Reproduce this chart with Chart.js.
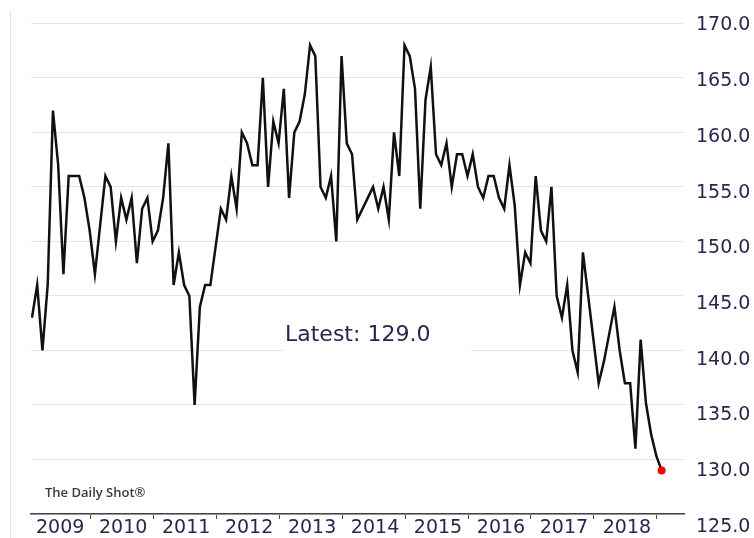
<!DOCTYPE html>
<html>
<head>
<meta charset="utf-8">
<script src="https://cdn.jsdelivr.net/npm/chart.js@4/dist/chart.umd.min.js"></script>
<style>
  html, body { margin: 0; padding: 0; background: #fff; overflow: hidden; }
</style>
</head>
<body>
<canvas id="chart" width="754" height="538"></canvas>
<script>
// monthly values, Jan 2009 .. Jan 2019
const v2009 = [143, 146, 140, 146, 162, 157, 147, 156, 156, 156, 154, 151];
const v2010 = [147, 151.5, 156, 155, 150, 154, 152, 154, 148, 153, 154, 150];
const v2011 = [151, 154, 159, 146, 149, 146, 145, 135, 144, 146, 146, 149.5];
const v2012 = [153, 152, 156, 153, 160, 159, 157, 157, 165, 155, 161, 159];
const v2013 = [164, 154, 160, 161, 163.5, 168, 167, 155, 154, 156, 150, 167];
const v2014 = [159, 158, 152, 153, 154, 155, 153, 155, 152, 160, 156, 168];
const v2015 = [167, 164, 153, 163, 166, 158, 157, 159, 155, 158, 158, 156];
const v2016 = [158, 155, 154, 156, 156, 154, 153, 157, 153.3, 146, 149, 148];
const v2017 = [156, 151, 150, 155, 145, 143, 146, 140, 138, 149, 145, 141];
const v2018 = [137, 139, 141.5, 144, 140, 137, 137, 131, 141, 135.2, 132.3, 130.3];
const v2019 = [129];

const years = ['2009', '2010', '2011', '2012', '2013', '2014', '2015', '2016', '2017', '2018'];
const yTicks = [125, 130, 135, 140, 145, 150, 155, 160, 165, 170];
const latestText = 'Latest: 129.0';

const values = [].concat(v2009, v2010, v2011, v2012, v2013, v2014, v2015, v2016, v2017, v2018, v2019);
const points = values.map((v, i) => ({ x: 2009 + (i + 0.9) / 12, y: v }));
const last = points.length - 1;

const ink = '#30234d';

const decor = {
  id: 'decor',
  beforeDraw(chart) {
    const c = chart.ctx;
    c.save();
    c.fillStyle = '#ffffff';
    c.fillRect(0, 0, chart.width, chart.height);
    c.strokeStyle = '#e4e4e4';
    c.lineWidth = 1;
    c.beginPath();
    c.moveTo(10.5, 10);
    c.lineTo(10.5, chart.height);
    c.stroke();
    c.restore();
  },
  beforeDatasetsDraw(chart) {
    const c = chart.ctx;
    const a = chart.chartArea;
    c.save();
    c.fillStyle = '#ffffff';
    c.fillRect(a.left + 252, 306, 188, 50);
    c.fillStyle = ink;
    c.font = '22px "DejaVu Sans"';
    c.textBaseline = 'alphabetic';
    c.fillText(latestText, a.left + 254, 341);
    c.restore();
  },
  afterDraw(chart) {
    const c = chart.ctx;
    c.save();
    c.fillStyle = '#3a3a3a';
    c.font = '600 13px "Open Sans"';
    c.textBaseline = 'alphabetic';
    c.fillText('The Daily Shot®', 45, 497);
    c.restore();
  }
};

new Chart(document.getElementById('chart'), {
  type: 'line',
  data: {
    datasets: [{
      data: points,
      borderColor: '#111111',
      borderWidth: 2.5,
      tension: 0,
      pointRadius: ctx => ctx.dataIndex === last ? 4 : 0,
      pointBackgroundColor: '#ff0000',
      pointBorderWidth: 0,
      xAxisID: 'x',
      yAxisID: 'y'
    }]
  },
  options: {
    responsive: false,
    animation: false,
    devicePixelRatio: 1,
    layout: { padding: { left: 31, right: 0, top: 20, bottom: 0 } },
    plugins: { legend: { display: false }, tooltip: { enabled: false } },
    scales: {
      x: {
        type: 'linear',
        position: 'bottom',
        min: 2009.06,
        max: 2019.43,
        afterBuildTicks: s => { s.ticks = [2010, 2011, 2012, 2013, 2014, 2015, 2016, 2017, 2018, 2019].map(v => ({ value: v })); },
        grid: { drawOnChartArea: false, drawTicks: true, tickLength: 5, color: '#444' },
        border: { display: true, color: '#444', width: 1.5 },
        ticks: {
          color: ink,
          font: { family: 'DejaVu Sans', size: 19, lineHeight: 1 },
          padding: 0,
          labelOffset: -30,
          maxRotation: 0,
          autoSkip: false,
          callback: v => years[v - 2010]
        }
      },
      y: {
        position: 'left',
        min: 125,
        max: 170,
        afterBuildTicks: s => { s.ticks = yTicks.map(v => ({ value: v })); },
        grid: { color: '#e6e6e6', lineWidth: 1, drawTicks: false },
        border: { display: false },
        ticks: { display: false }
      },
      y2: {
        position: 'right',
        min: 126.16,
        max: 170.18,
        afterBuildTicks: s => { s.ticks = yTicks.map(v => ({ value: v })); },
        afterFit: s => { s.width = 70; },
        grid: { display: false, drawTicks: false },
        border: { display: false },
        ticks: {
          color: ink,
          padding: 12,
          font: { family: 'DejaVu Sans', size: 19 },
          callback: v => v.toFixed(1)
        }
      }
    }
  },
  plugins: [decor]
});
</script>
</body>
</html>
